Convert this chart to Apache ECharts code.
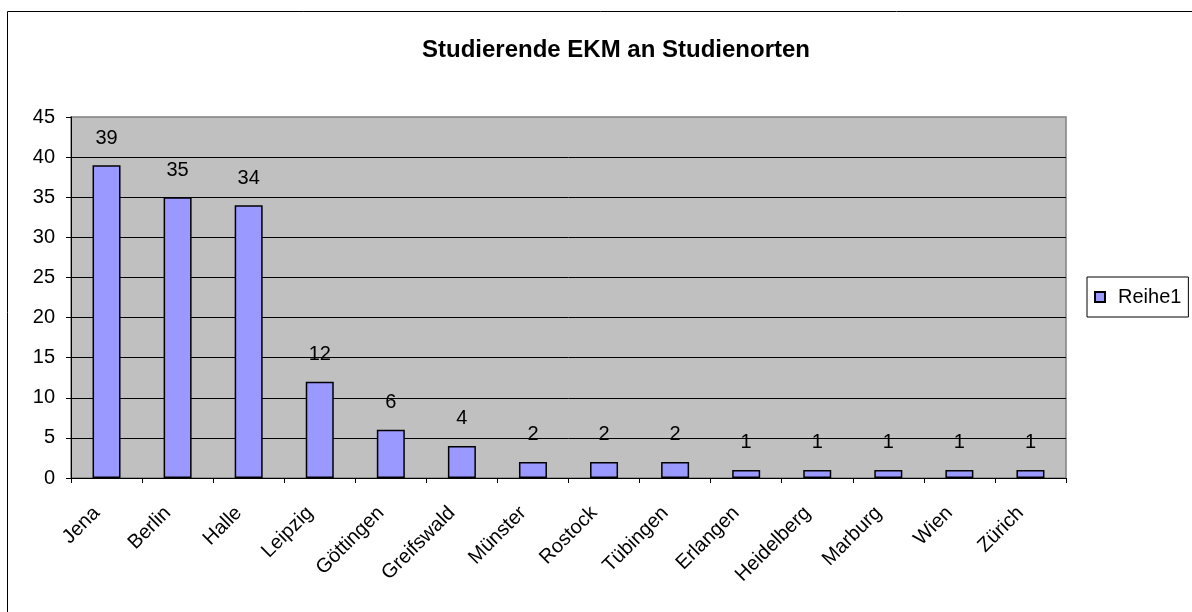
<!DOCTYPE html>
<html>
<head>
<meta charset="utf-8">
<script src="https://cdn.jsdelivr.net/npm/echarts@6/dist/echarts.min.js"></script>
<style>html,body{margin:0;padding:0;background:#fff}#c{width:1192px;height:612px}</style>
</head>
<body>
<div id="c"></div>
<script>
const categories = ["Jena","Berlin","Halle","Leipzig","Göttingen","Greifswald","Münster","Rostock","Tübingen","Erlangen","Heidelberg","Marburg","Wien","Zürich"];
const values = [39,35,34,12,6,4,2,2,2,1,1,1,1,1];
const seriesName = "Reihe1";
const titleText = "Studierende EKM an Studienorten";
const gridValues = [5,10,15,20,25,30,35,40];

const chart = echarts.init(document.getElementById('c'));
const font = '"Liberation Sans", Arial, sans-serif';
chart.setOption({
  animation: false,
  graphic: [{
    type: 'polyline', shape: {points: [[7.5, 700], [7.5, 11.5], [1300, 11.5]]},
    style: {fill: null, stroke: '#000', lineWidth: 1}, z: -10
  }],
  title: {
    text: titleText, left: 611, top: 33, textAlign: 'center',
    textStyle: {fontFamily: font, fontSize: 24, fontWeight: 'bold', color: '#000'}
  },
  legend: {
    data: [seriesName], left: 1087, top: 277, orient: 'vertical',
    borderColor: '#000', borderWidth: 1, padding: [10, 7, 10, 7],
    itemWidth: 10, itemHeight: 10, icon: 'rect',
    textStyle: {fontFamily: font, fontSize: 20, color: '#000', padding: [0, 0, 0, 8]}
  },
  grid: {left: 71, right: 126, top: 117, bottom: 134, show: true,
    backgroundColor: '#C0C0C0', borderColor: '#808080', borderWidth: 1.5},
  xAxis: {
    type: 'category', data: categories,
    axisLine: {lineStyle: {color: '#000', width: 1}},
    axisTick: {show: true, alignWithLabel: false, length: 5, lineStyle: {color: '#000'}},
    axisLabel: {rotate: 45, fontFamily: font, fontSize: 20, color: '#000', margin: 22,
      interval: 0, padding: [0, 14, 0, 0]}
  },
  yAxis: {
    type: 'value', min: 0, max: 45, interval: 5,
    axisLine: {show: true, lineStyle: {color: '#000'}},
    axisTick: {show: true, length: 5, lineStyle: {color: '#000'}},
    axisLabel: {fontFamily: font, fontSize: 20, color: '#000', margin: 16},
    splitLine: {show: false}
  },
  series: [{
    name: seriesName, type: 'bar', data: values, barWidth: 28,
    itemStyle: {color: '#9999FF', borderColor: '#000', borderWidth: 1.5},
    label: {show: true, position: 'top', distance: 17, fontFamily: font, fontSize: 20, color: '#000'},
    markLine: {
      silent: true, symbol: ['none', 'none'], z: 1,
      label: {show: false},
      lineStyle: {color: '#000', width: 1, type: 'solid'},
      data: gridValues.map(v => ({yAxis: v}))
    }
  }]
});
</script>
</body>
</html>
